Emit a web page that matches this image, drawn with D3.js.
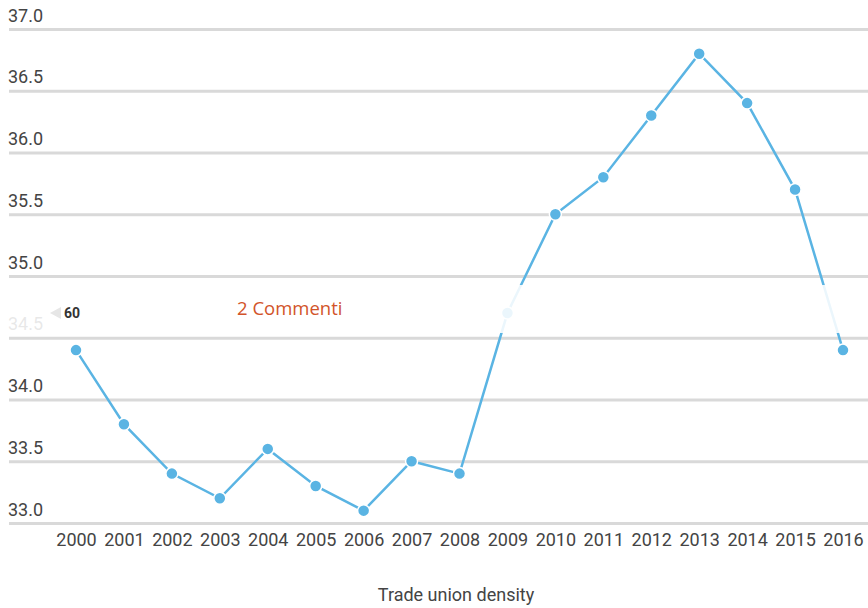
<!DOCTYPE html>
<html>
<head>
<meta charset="utf-8">
<script src="https://cdn.jsdelivr.net/npm/d3@7"></script>
<style>
  body { margin: 0; background: #fff; }
  svg { display: block; font-family: Roboto, sans-serif; }
</style>
</head>
<body>
<div id="chart"></div>
<script>
// data
const years = ['2000','2001','2002','2003','2004','2005','2006','2007','2008',
  '2009','2010','2011','2012','2013','2014','2015','2016'];
const density = [34.4, 33.8, 33.4, 33.2, 33.6, 33.3, 33.1, 33.5, 33.4,
  34.7, 35.5, 35.8, 36.3, 36.8, 36.4, 35.7, 34.4];
const yTicks = [33.0, 33.5, 34.0, 34.5, 35.0, 35.5, 36.0, 36.5, 37.0];
const xTitle = 'Trade union density';

const width = 868, height = 608;
const margin = { t: 29, r: 0, b: 85, l: 9 };

const svg = d3.select('#chart').append('svg')
  .attr('width', width)
  .attr('height', height);

const scaleX = d3.scalePoint()
  .domain(years)
  .range([76, 843]);

const scaleY = d3.scaleLinear()
  .domain([33, 37])
  .range([height - margin.b, margin.t]);

// grid + y labels
const axisY = d3.axisLeft(scaleY)
  .tickValues(yTicks)
  .tickSize(-(width - margin.l))
  .tickFormat(d3.format('.1f'));

const gY = svg.append('g')
  .attr('class', 'axis-y')
  .attr('transform', `translate(${margin.l},0)`)
  .call(axisY)
  .attr('font-family', null);
gY.select('.domain').remove();
gY.selectAll('line')
  .style('stroke', '#d9d9d9')
  .style('stroke-width', 3);
gY.selectAll('text')
  .attr('x', -1)
  .attr('dy', -8)
  .attr('text-anchor', 'start')
  .style('font-family', 'Roboto, sans-serif')
  .style('font-size', '18px')
  .style('fill', '#444');

// x labels
const axisX = d3.axisBottom(scaleX).tickSize(0);
const gX = svg.append('g')
  .attr('class', 'axis-x')
  .attr('transform', `translate(0,${scaleY(33)})`)
  .call(axisX)
  .attr('font-family', null);
gX.select('.domain').remove();
gX.selectAll('text')
  .attr('y', 10)
  .attr('dy', '0.71em')
  .style('font-family', 'Roboto, sans-serif')
  .style('font-size', '18px')
  .style('fill', '#444');

svg.append('text')
  .attr('x', 456)
  .attr('y', 601)
  .attr('text-anchor', 'middle')
  .style('font-family', 'Roboto, sans-serif')
  .style('font-size', '18px')
  .style('fill', '#444')
  .text(xTitle);

// line
const pts = years.map((y, i) => ({ year: y, value: density[i] }));
const line = d3.line()
  .x(d => scaleX(d.year))
  .y(d => scaleY(d.value));

svg.append('path')
  .datum(pts)
  .attr('d', line)
  .style('fill', 'none')
  .style('stroke', '#5ab4e3')
  .style('stroke-width', 2.5);

svg.selectAll('.dot')
  .data(pts)
  .enter().append('circle')
  .attr('class', 'dot')
  .attr('cx', d => scaleX(d.year))
  .attr('cy', d => scaleY(d.value))
  .attr('r', 6)
  .style('fill', '#5ab4e3')
  .style('stroke', '#fff')
  .style('stroke-width', 1.5);

// page overlay band (share / comments bar)
svg.append('rect')
  .attr('x', 0)
  .attr('y', 285)
  .attr('width', width)
  .attr('height', 48)
  .style('fill', '#fff')
  .style('opacity', 0.88);

svg.append('path')
  .attr('d', 'M50,313 L61,307 L61,319 Z')
  .style('fill', '#e6e6e6');
svg.append('text')
  .attr('x', 64)
  .attr('y', 318)
  .style('font-family', 'Roboto, sans-serif')
  .style('font-size', '14px')
  .style('font-weight', 'bold')
  .style('fill', '#333')
  .text('60');

svg.append('text')
  .attr('x', 237)
  .attr('y', 315)
  .style('font-family', '"Open Sans", sans-serif')
  .style('font-size', '18.5px')
  .style('fill', '#d2542a')
  .text('2 Commenti');
</script>
</body>
</html>
